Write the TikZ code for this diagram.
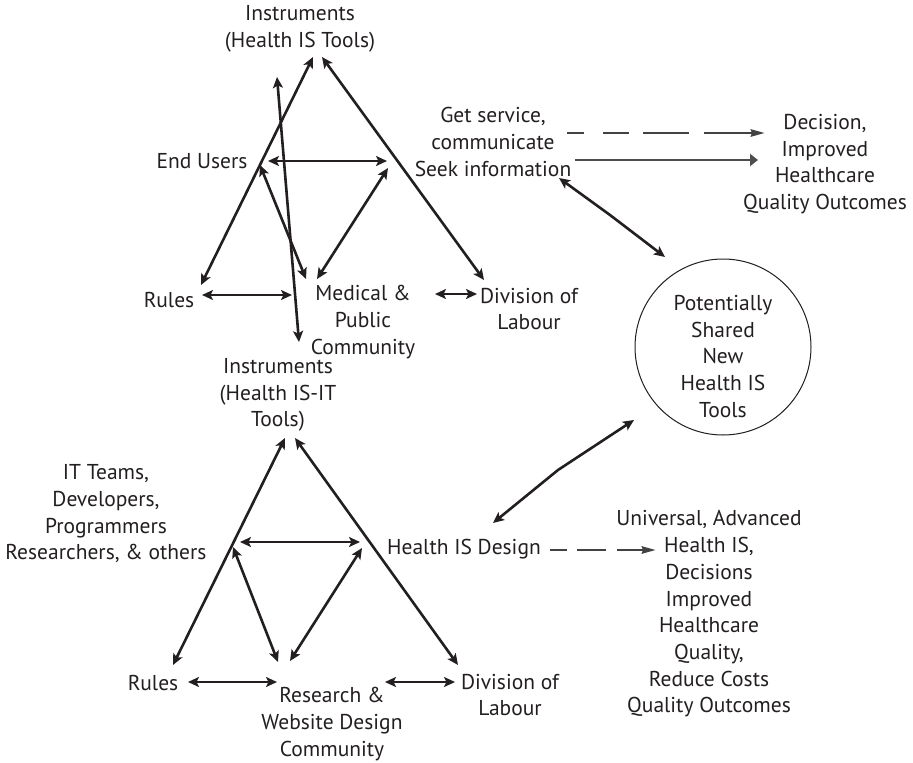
\documentclass[tikz,border=0pt]{standalone}
\usepackage{fontspec}
\setmainfont{PT Sans}
\usetikzlibrary{arrows.meta}
\definecolor{ink}{HTML}{231F20}
\definecolor{greyline}{HTML}{4D4D4D}
\begin{document}
\begin{tikzpicture}[x=1pt,y=-1pt,
  lbl/.style={align=center, font=\fontsize{21.5}{26.7}\selectfont, inner sep=0pt, text=ink},
  dbl/.style={{Stealth[length=11pt,width=10pt,inset=2.5pt]}-{Stealth[length=11pt,width=10pt,inset=2.5pt]}, line width=2.6pt, draw=ink},
  dasharrow/.style={-{Stealth[length=14pt,width=7pt,inset=1pt]}, line width=2.8pt, draw=ink!85},
  greyarrow/.style={-{Triangle[length=8pt,width=12pt]}, line width=2.5pt, draw=greyline},
  ring/.style={circle, draw=ink, line width=1pt, minimum size=176pt, inner sep=0pt}]
\useasboundingbox (0,0) rectangle (913,763);

% ---------- top activity triangle ----------
\node[lbl] (instA) at (300,29) {Instruments\\(Health IS Tools)};
\node[lbl] (usersA) at (202,161) {End Users};
\node[lbl] (rulesA) at (169,300) {Rules};
\node[lbl] (commA) at (363,322) {Medical \&\\Public\\Community};
\node[lbl] (divA) at (529,309) {Division of\\Labour};

\coordinate (a1s) at (201,285); \coordinate (a1e) at (313,57);
\coordinate (a2s) at (322,57);  \coordinate (a2e) at (484,280);
\coordinate (a3s) at (277,77);  \coordinate (a3e) at (299,342);
\coordinate (a4s) at (268,161); \coordinate (a4e) at (387,161);
\coordinate (a5s) at (260,165); \coordinate (a5e) at (306,279);
\coordinate (a6s) at (388,168); \coordinate (a6e) at (317,279);
\coordinate (a7s) at (202,295); \coordinate (a7e) at (292,295);
\coordinate (a8s) at (435,294); \coordinate (a8e) at (477,294);

\draw[dbl] (a1s) -- (a1e);
\draw[dbl] (a2s) -- (a2e);
\draw[dbl] (a3s) -- (a3e);
\draw[dbl] (a4s) -- (a4e);
\draw[dbl] (a5s) -- (a5e);
\draw[dbl] (a6s) -- (a6e);
\draw[dbl] (a7s) -- (a7e);
\draw[dbl] (a8s) -- (a8e);

% ---------- upper right ----------
\node[lbl] (getsvc) at (493,142) {Get service,\\communicate\\Seek information};
\node[lbl] (decision) at (825,164) {Decision,\\Improved\\Healthcare\\Quality Outcomes};

\coordinate (d1s) at (567,133); \coordinate (d1e) at (765,133);
\coordinate (g1s) at (575,160); \coordinate (g1e) at (758,160);
\draw[dasharrow, dash pattern=on 17pt off 19pt on 26pt off 14pt on 46pt off 15pt on 200pt] (d1s) -- (d1e);
\draw[greyarrow] (g1s) -- (g1e);

% ---------- shared circle ----------
\node[ring] (shared) at (723,347) {};
\node[lbl] (sharedtxt) at (723,356.5) {Potentially\\Shared\\New\\Health IS\\Tools};

\coordinate (c1s) at (559,178); \coordinate (c1m) at (610,215); \coordinate (c1e) at (665,257);
\draw[dbl] (c1s) -- (c1m) -- (c1e);
\coordinate (c2s) at (634,420); \coordinate (c2m) at (558,470); \coordinate (c2e) at (493,523);
\draw[dbl] (c2s) -- (c2m) -- (c2e);

% ---------- bottom activity triangle ----------
\node[lbl] (instB) at (278,395) {Instruments\\(Health IS-IT\\Tools)};
\node[lbl] (usersB) at (106,514) {IT Teams,\\Developers,\\Programmers\\Researchers, \& others};
\node[lbl] (rulesB) at (153,683) {Rules};
\node[lbl] (commB) at (332,724) {Research \&\\Website Design\\Community};
\node[lbl] (divB) at (510,695) {Division of\\Labour};
\node[lbl] (design) at (464,549) {Health IS Design};
\node[lbl] (universal) at (709,614) {Universal, Advanced\\Health IS,\\Decisions\\Improved\\Healthcare\\Quality,\\Reduce Costs\\Quality Outcomes};

\coordinate (b1s) at (173,665); \coordinate (b1e) at (285,438);
\coordinate (b2s) at (295,438); \coordinate (b2e) at (458,665);
\coordinate (b3s) at (240,542); \coordinate (b3e) at (360,542);
\coordinate (b4s) at (233,547); \coordinate (b4e) at (278,662);
\coordinate (b5s) at (362,548); \coordinate (b5e) at (290,661);
\coordinate (b6s) at (188,682); \coordinate (b6e) at (277,682);
\coordinate (b7s) at (385,682); \coordinate (b7e) at (455,682);

\draw[dbl] (b1s) -- (b1e);
\draw[dbl] (b2s) -- (b2e);
\draw[dbl] (b3s) -- (b3e);
\draw[dbl] (b4s) -- (b4e);
\draw[dbl] (b5s) -- (b5e);
\draw[dbl] (b6s) -- (b6e);
\draw[dbl] (b7s) -- (b7e);

\coordinate (d2s) at (550,550); \coordinate (d2e) at (656,550);
\draw[dasharrow, dash pattern=on 17pt off 10pt on 29pt off 11pt on 200pt] (d2s) -- (d2e);
\end{tikzpicture}
\end{document}
